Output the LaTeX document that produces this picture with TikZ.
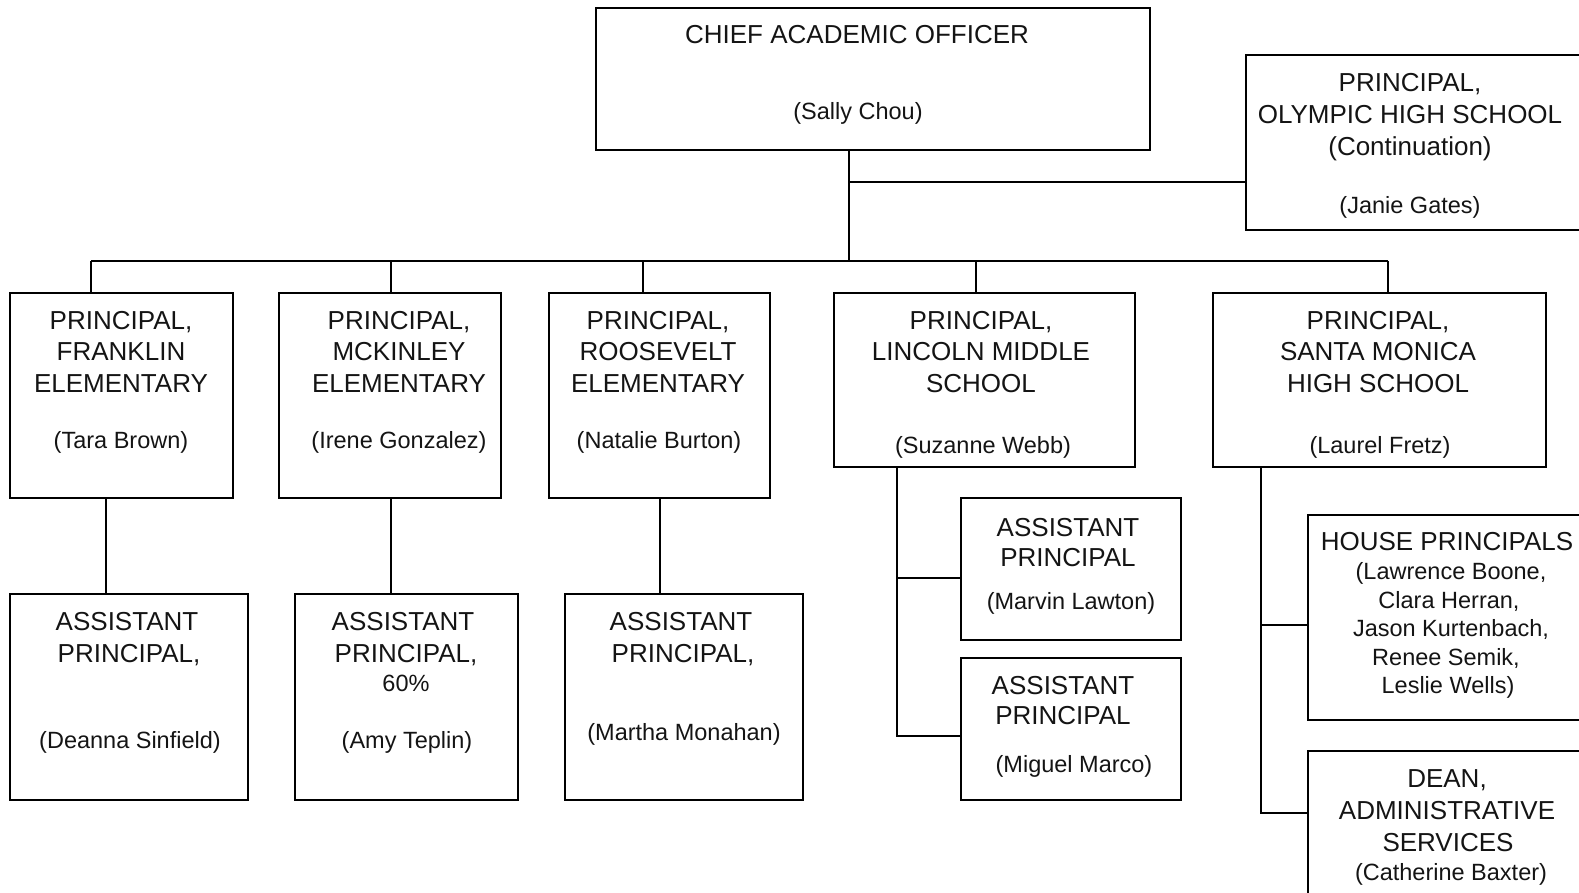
\documentclass[tikz,border=0pt]{standalone}
\usepackage{fontspec}
\setmainfont{Liberation Sans}
\newcommand\tx[5]{\node[#1] (#2) at (#3,#4) {#5};}
\begin{document}
\begin{tikzpicture}[x=1pt,y=-1pt,
  box/.style={draw=black,line width=2.4pt,inner sep=0pt,rectangle},
  ttl/.style={inner sep=0pt,anchor=base,font=\fontsize{26}{31}\selectfont,text=black!92},
  nm/.style={inner sep=0pt,anchor=base,font=\fontsize{23.5}{28}\selectfont,text=black!92},
  con/.style={draw=black,line width=2.4pt}]
\useasboundingbox (0,0) rectangle (1579,893);
\clip (0,0) rectangle (1579,893);
% boxes
\node[box,minimum width=554,minimum height=142] (cao) at (873,79) {};
\node[box,minimum width=404,minimum height=175] (oly) at (1448,142.5) {};
\node[box,minimum width=223,minimum height=205] (fr) at (121.5,395.5) {};
\node[box,minimum width=222,minimum height=205] (mk) at (390,395.5) {};
\node[box,minimum width=221,minimum height=205] (ro) at (659.5,395.5) {};
\node[box,minimum width=301,minimum height=174] (li) at (984.5,380) {};
\node[box,minimum width=333,minimum height=174] (sm) at (1379.5,380) {};
\node[box,minimum width=238,minimum height=206] (fra) at (129,697) {};
\node[box,minimum width=223,minimum height=206] (mka) at (406.5,697) {};
\node[box,minimum width=238,minimum height=206] (roa) at (684,697) {};
\node[box,minimum width=220,minimum height=142] (lia) at (1071,569) {};
\node[box,minimum width=220,minimum height=142] (lib) at (1071,729) {};
\node[box,minimum width=392,minimum height=205] (hp) at (1504,617.5) {};
\node[box,minimum width=392,minimum height=199] (dean) at (1504,850.5) {};
% texts
\tx{ttl}{cao1}{857}{44}{CHIEF ACADEMIC OFFICER}
\tx{nm}{cao2}{858}{120}{(Sally Chou)}
\tx{ttl}{oly1}{1410}{92}{PRINCIPAL,}
\tx{ttl}{oly2}{1410}{124}{OLYMPIC HIGH SCHOOL}
\tx{ttl}{oly3}{1410}{156}{(Continuation)}
\tx{nm}{oly4}{1410}{214}{(Janie Gates)}
\tx{ttl}{fr1}{121}{329}{PRINCIPAL,}
\tx{ttl}{fr2}{121}{360}{FRANKLIN}
\tx{ttl}{fr3}{121}{392}{ELEMENTARY}
\tx{nm}{fr4}{121}{448}{(Tara Brown)}
\tx{ttl}{mk1}{399}{329}{PRINCIPAL,}
\tx{ttl}{mk2}{399}{360}{MCKINLEY}
\tx{ttl}{mk3}{399}{392}{ELEMENTARY}
\tx{nm}{mk4}{399}{448}{(Irene Gonzalez)}
\tx{ttl}{ro1}{658}{329}{PRINCIPAL,}
\tx{ttl}{ro2}{658}{360}{ROOSEVELT}
\tx{ttl}{ro3}{658}{392}{ELEMENTARY}
\tx{nm}{ro4}{659}{448}{(Natalie Burton)}
\tx{ttl}{li1}{981}{329}{PRINCIPAL,}
\tx{ttl}{li2}{981}{360}{LINCOLN MIDDLE}
\tx{ttl}{li3}{981}{392}{SCHOOL}
\tx{nm}{li4}{983}{453}{(Suzanne Webb)}
\tx{ttl}{sm1}{1378}{329}{PRINCIPAL,}
\tx{ttl}{sm2}{1378}{360}{SANTA MONICA}
\tx{ttl}{sm3}{1378}{392}{HIGH SCHOOL}
\tx{nm}{sm4}{1380}{453}{(Laurel Fretz)}
\tx{ttl}{fra1}{127}{630}{ASSISTANT}
\tx{ttl}{fra2}{129}{662}{PRINCIPAL,}
\tx{nm}{fra3}{130}{748}{(Deanna Sinfield)}
\tx{ttl}{mka1}{403}{630}{ASSISTANT}
\tx{ttl}{mka2}{406}{662}{PRINCIPAL,}
\tx{nm}{mka3}{406}{691}{60\%}
\tx{nm}{mka4}{407}{748}{(Amy Teplin)}
\tx{ttl}{roa1}{681}{630}{ASSISTANT}
\tx{ttl}{roa2}{683}{662}{PRINCIPAL,}
\tx{nm}{roa3}{684}{740}{(Martha Monahan)}
\tx{ttl}{lia1}{1068}{536}{ASSISTANT}
\tx{ttl}{lia2}{1068}{566}{PRINCIPAL}
\tx{nm}{lia3}{1071}{609}{(Marvin Lawton)}
\tx{ttl}{lib1}{1063}{694}{ASSISTANT}
\tx{ttl}{lib2}{1063}{724}{PRINCIPAL}
\tx{nm}{lib3}{1074}{772}{(Miguel Marco)}
\tx{ttl}{hp1}{1447}{550}{HOUSE PRINCIPALS}
\tx{nm}{hp2}{1451}{579}{(Lawrence Boone,}
\tx{nm}{hp3}{1449}{608}{Clara Herran,}
\tx{nm}{hp4}{1451}{636}{Jason Kurtenbach,}
\tx{nm}{hp5}{1446}{665}{Renee Semik,}
\tx{nm}{hp6}{1448}{693}{Leslie Wells)}
\tx{ttl}{dn1}{1447}{787}{DEAN,}
\tx{ttl}{dn2}{1447}{819}{ADMINISTRATIVE}
\tx{ttl}{dn3}{1448}{851}{SERVICES}
\tx{nm}{dn4}{1451}{880}{(Catherine Baxter)}
% connector coordinates
\coordinate (j1) at (849,182);
\coordinate (j2) at (849,261);
\coordinate (d1) at (91,261);
\coordinate (d2) at (391,261);
\coordinate (d3) at (643,261);
\coordinate (d4) at (976,261);
\coordinate (d5) at (1388,261);
\coordinate (lt) at ([xshift=-87.5]li.south);
\coordinate (st) at ([xshift=-118.5]sm.south);
% connectors
\draw[con] (j1 |- cao.south) -- (j2);
\draw[con] (j1) -- (j1 -| oly.west);
\draw[con] (d1) -- (d5);
\draw[con] (d1) -- (d1 |- fr.north);
\draw[con] (d2) -- (d2 |- mk.north);
\draw[con] (d3) -- (d3 |- ro.north);
\draw[con] (d4) -- (d4 |- li.north);
\draw[con] (d5) -- (d5 |- sm.north);
\draw[con] ([xshift=-15.5]fr.south) -- ([xshift=-15.5]fr.south |- fra.north);
\draw[con] ([xshift=1]mk.south) -- ([xshift=1]mk.south |- mka.north);
\draw[con] ([xshift=0.5]ro.south) -- ([xshift=0.5]ro.south |- roa.north);
\draw[con] (lt) |- ([yshift=-7]lib.west);
\draw[con] ([yshift=-9]lia.west) -- ([yshift=-9]lia.west -| lt);
\draw[con] (st) |- ([yshift=-63]dean.north west);
\draw[con] ([yshift=-7.5]hp.west) -- ([yshift=-7.5]hp.west -| st);
\end{tikzpicture}
\end{document}
